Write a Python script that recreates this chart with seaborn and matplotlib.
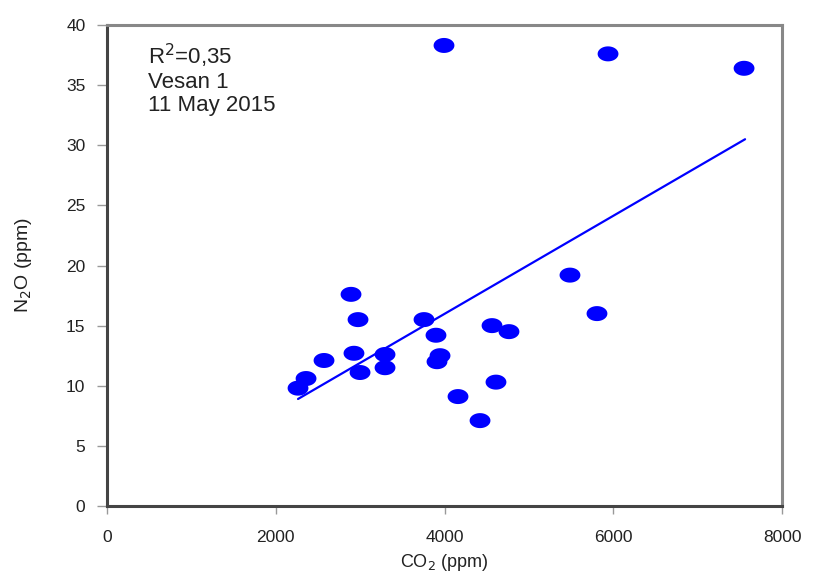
import numpy as np
import pandas as pd
import matplotlib
matplotlib.use("Agg")
import matplotlib.pyplot as plt
from matplotlib.path import Path
import seaborn as sns

co2 = [2264, 2359, 2572, 2892, 2927, 2975, 2999, 3295, 3295, 3757, 3899,
       3947, 3911, 3994, 4160, 4421, 4563, 4610, 4764, 5487, 5807, 5938, 7550]
n2o = [9.8, 10.6, 12.1, 17.6, 12.7, 15.5, 11.1, 12.6, 11.5, 15.5, 14.2,
       12.5, 12.0, 38.3, 9.1, 7.1, 15.0, 10.3, 14.5, 19.2, 16.0, 37.6, 36.4]
fit_x = [2264, 7562]
fit_y = [8.9, 30.5]
xticks = [0, 2000, 4000, 6000, 8000]
yticks = [0, 5, 10, 15, 20, 25, 30, 35, 40]

sns.set_style("white")
plt.rcParams['font.family'] = ['Liberation Sans', 'DejaVu Sans']

df = pd.DataFrame({"co2": co2, "n2o": n2o})
fit = pd.DataFrame({"x": fit_x, "y": fit_y})

fig = plt.figure(figsize=(8.13, 5.79), dpi=100)
ax = fig.add_axes([0.1316, 0.1261, 0.8303, 0.8307])

t = np.linspace(0, 2 * np.pi, 60)
ell = Path(np.column_stack([np.cos(t), 0.72 * np.sin(t)]), closed=True)

sns.lineplot(data=fit, x="x", y="y", ax=ax, color="#0000ff", lw=1.6)
sns.scatterplot(data=df, x="co2", y="n2o", ax=ax, marker=ell, s=225,
                color="#0000ff", edgecolor="none", zorder=3)

ax.set_xlim(0, 8000)
ax.set_ylim(0, 40)
ax.set_xticks(xticks)
ax.set_yticks(yticks)
ax.tick_params(axis="both", direction="out", width=1, color="#999999",
               labelsize=12.5, labelcolor="#222222", left=True, bottom=True)
ax.tick_params(axis="x", length=6, pad=11)
ax.tick_params(axis="y", length=7, pad=8.5)
ax.set_xlabel("CO$_2$ (ppm)", fontsize=13, color="#222222", labelpad=5)
ax.set_ylabel("N$_2$O (ppm)", fontsize=14, color="#222222", labelpad=23)

for side in ["left", "bottom"]:
    ax.spines[side].set_color("#444444")
    ax.spines[side].set_linewidth(2.2)
for side in ["top", "right"]:
    ax.spines[side].set_color("#888888")
    ax.spines[side].set_linewidth(2.2)

ax.text(0.061, 0.966, "R$^2$=0,35\nVesan 1\n11 May 2015", transform=ax.transAxes,
        fontsize=16, color="#222222", va="top", ha="left", linespacing=1.14)

fig.savefig("out.png", dpi=100)
